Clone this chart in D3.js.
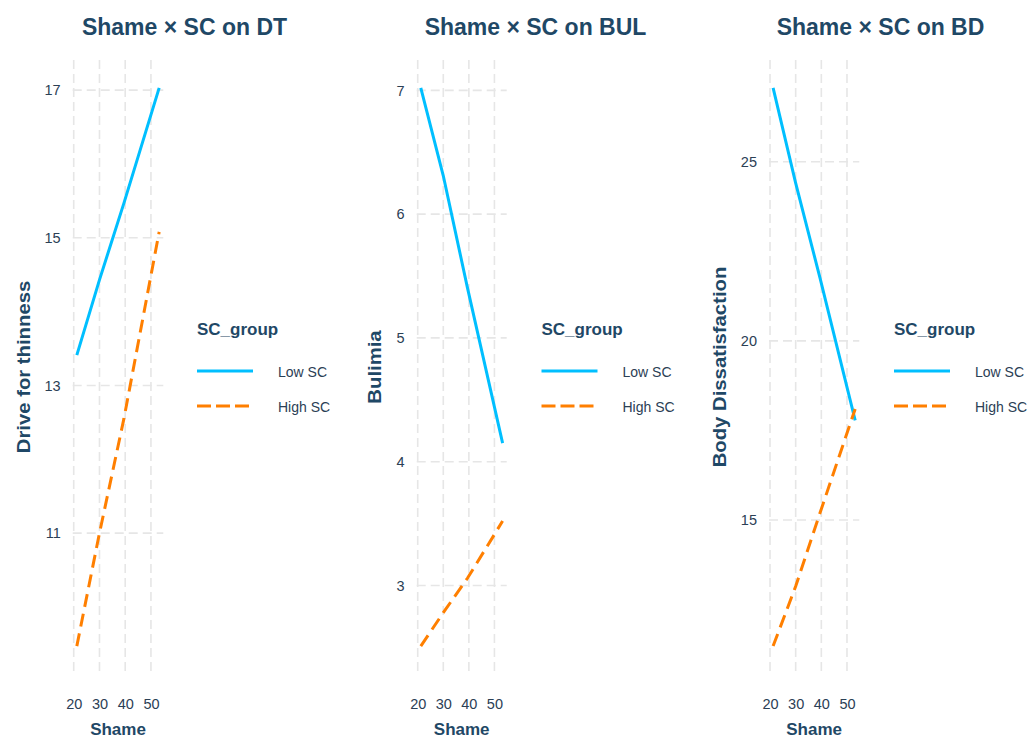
<!DOCTYPE html>
<html>
<head>
<meta charset="utf-8">
<script src="https://cdn.jsdelivr.net/npm/d3@7"></script>
<style>
  html, body { margin: 0; padding: 0; background: #ffffff; }
  svg { display: block; font-family: "Liberation Sans", Arial, Helvetica, sans-serif; }
</style>
</head>
<body>
<svg id="chart" width="1031" height="738"></svg>
<script>
// Shame values at which the simple slopes are evaluated
const shame = [21.2, 30, 39.5, 53.2];
const groups = ["Low SC", "High SC"];
const xTicks = [20, 30, 40, 50];

// Predicted outcome per SC group
const dtLow   = [13.41, 14.43, 15.47, 17.03];
const dtHigh  = [9.47, 11.0, 12.55, 15.08];
const bulLow  = [7.02, 6.31, 5.40, 4.15];
const bulHigh = [2.51, 2.78, 3.06, 3.52];
const bdLow   = [27.06, 24.4, 21.75, 17.78];
const bdHigh  = [11.48, 13.15, 15.2, 18.1];

const titles  = ["Shame × SC on DT", "Shame × SC on BUL", "Shame × SC on BD"];
const yTitles = ["Drive for thinness", "Bulimia", "Body Dissatisfaction"];
const yTicksDT  = [11, 13, 15, 17];
const yTicksBUL = [3, 4, 5, 6, 7];
const yTicksBD  = [15, 20, 25];

const panels = [
  { title: titles[0], yTitle: yTitles[0], low: dtLow,  high: dtHigh,  yTicks: yTicksDT },
  { title: titles[1], yTitle: yTitles[1], low: bulLow, high: bulHigh, yTicks: yTicksBUL },
  { title: titles[2], yTitle: yTitles[2], low: bdLow,  high: bdHigh,  yTicks: yTicksBD }
];

// Layout for each facet
const layout = [
  { left: 72.7,  right: 163.3, titleX: 184.5, yTitleX: 30,  legendX: 197 },
  { left: 416.7, right: 506.7, titleX: 535.5, yTitleX: 381, legendX: 541.5 },
  { left: 769,   right: 859.3, titleX: 880.5, yTitleX: 726, legendX: 894 }
];
const plotTop = 60, plotBottom = 674;

const colors = { "Low SC": "#00BFFF", "High SC": "#FF7F00" };
const dashes = { "Low SC": null, "High SC": "13,7" };
const titleColor = "#1F4866";
const textColor = "#2B4055";
const gridColor = "#E6E6E6";

const svg = d3.select("#chart");

// ggplot-like 5% expansion of a numeric extent
function expand(ext) {
  const pad = (ext[1] - ext[0]) * 0.05;
  return [ext[0] - pad, ext[1] + pad];
}

const xDomain = expand(d3.extent(shame));

panels.forEach((p, i) => {
  const L = layout[i];
  const g = svg.append("g");

  const x = d3.scaleLinear().domain(xDomain).range([L.left, L.right]);
  const yExt = d3.extent(p.low.concat(p.high));
  const y = d3.scaleLinear().domain(expand(yExt)).range([plotBottom, plotTop]);

  // Grid
  g.append("g").selectAll("line").data(xTicks).join("line")
    .attr("x1", d => x(d)).attr("x2", d => x(d))
    .attr("y1", plotTop).attr("y2", plotBottom)
    .attr("stroke", gridColor).attr("stroke-width", 1.6)
    .attr("stroke-dasharray", "9,5");
  g.append("g").selectAll("line").data(p.yTicks).join("line")
    .attr("x1", L.left).attr("x2", L.right)
    .attr("y1", d => y(d)).attr("y2", d => y(d))
    .attr("stroke", gridColor).attr("stroke-width", 1.6)
    .attr("stroke-dasharray", "9,5");

  // Axes (labels only, no axis lines)
  const xAxis = g.append("g")
    .attr("transform", `translate(0,${plotBottom})`)
    .call(d3.axisBottom(x).tickValues(xTicks).tickSize(0).tickPadding(25));
  xAxis.select(".domain").remove();
  xAxis.selectAll("text")
    .attr("fill", textColor).style("font-size", "14.5px")
    .style("font-family", "'Liberation Sans', Arial, sans-serif");

  const yAxis = g.append("g")
    .attr("transform", `translate(${L.left},0)`)
    .call(d3.axisLeft(y).tickValues(p.yTicks).tickSize(0).tickPadding(12)
      .tickFormat(d3.format("d")));
  yAxis.select(".domain").remove();
  yAxis.selectAll("text")
    .attr("fill", textColor).style("font-size", "14.5px")
    .style("font-family", "'Liberation Sans', Arial, sans-serif");

  // Lines
  const line = d3.line().x((d, k) => x(shame[k])).y(d => y(d));
  groups.forEach(grp => {
    const vals = grp === "Low SC" ? p.low : p.high;
    g.append("path")
      .datum(vals)
      .attr("d", line)
      .attr("fill", "none")
      .attr("stroke", colors[grp])
      .attr("stroke-width", 3)
      .attr("stroke-dasharray", dashes[grp]);
  });

  // Titles
  g.append("text")
    .attr("x", L.titleX).attr("y", 35)
    .attr("text-anchor", "middle")
    .attr("fill", titleColor)
    .style("font-size", "23px").style("font-weight", "bold")
    .text(p.title);

  g.append("text")
    .attr("x", (L.left + L.right) / 2).attr("y", 735)
    .attr("text-anchor", "middle")
    .attr("fill", titleColor)
    .style("font-size", "17px").style("font-weight", "bold")
    .text("Shame");

  g.append("text")
    .attr("transform", `translate(${L.yTitleX},${(plotTop + plotBottom) / 2}) rotate(-90) scale(1.16,1)`)
    .attr("text-anchor", "middle")
    .attr("fill", titleColor)
    .style("font-size", "17.5px").style("font-weight", "bold")
    .text(p.yTitle);

  // Legend
  const lg = g.append("g").attr("transform", `translate(${L.legendX},0)`);
  lg.append("text")
    .attr("x", 0).attr("y", 335)
    .attr("fill", titleColor)
    .style("font-size", "17px").style("font-weight", "bold")
    .text("SC_group");
  groups.forEach((grp, k) => {
    const ly = 371 + k * 35;
    lg.append("line")
      .attr("x1", 0).attr("x2", 56)
      .attr("y1", ly).attr("y2", ly)
      .attr("stroke", colors[grp]).attr("stroke-width", 3)
      .attr("stroke-dasharray", dashes[grp] ? "14,5" : null);
    lg.append("text")
      .attr("x", 81).attr("y", ly + 5.5)
      .attr("fill", textColor)
      .style("font-size", "14px")
      .text(grp);
  });
});
</script>
</body>
</html>
